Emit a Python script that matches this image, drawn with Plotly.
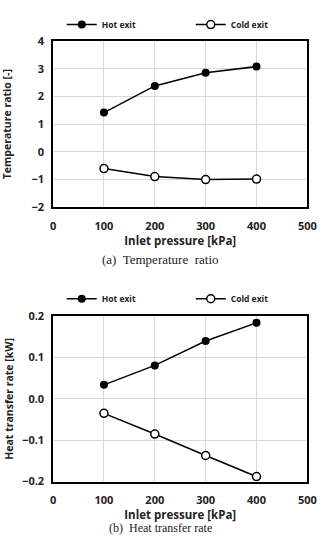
import plotly.graph_objects as go
from plotly.subplots import make_subplots

pressure = [100, 200, 300, 400]
temp_hot = [1.42, 2.38, 2.86, 3.08]
temp_cold = [-0.60, -0.89, -1.00, -0.98]
heat_hot = [0.034, 0.081, 0.140, 0.184]
heat_cold = [-0.035, -0.085, -0.137, -0.188]
x_ticks = [0, 100, 200, 300, 400, 500]

FONT = "Open Sans"
fig = make_subplots(rows=2, cols=1)

hot_style = dict(mode="lines+markers", line=dict(color="black", width=1.5),
                 marker=dict(symbol="circle", size=8, color="black"))
cold_style = dict(mode="lines+markers", line=dict(color="black", width=1.5),
                  marker=dict(symbol="circle", size=8, color="white",
                              line=dict(color="black", width=1.5)))

fig.add_trace(go.Scatter(x=pressure, y=temp_hot, name="Hot exit", legend="legend", **hot_style), row=1, col=1)
fig.add_trace(go.Scatter(x=pressure, y=temp_cold, name="Cold exit", legend="legend", **cold_style), row=1, col=1)
fig.add_trace(go.Scatter(x=pressure, y=heat_hot, name="Hot exit", legend="legend2", **hot_style), row=2, col=1)
fig.add_trace(go.Scatter(x=pressure, y=heat_cold, name="Cold exit", legend="legend2", **cold_style), row=2, col=1)

xd = [52/326, 316/326]
axis_common = dict(showline=True, linecolor="black", linewidth=1.5, mirror=True,
                   showgrid=True, gridcolor="#d9d9d9", gridwidth=1, zeroline=False,
                   ticks="", tickfont=dict(family=FONT, size=11, color="#222", weight="bold"))

fig.update_xaxes(**axis_common, range=[0, 500], tickvals=x_ticks, domain=xd,
                 ticklabelstandoff=8,
                 title=dict(text="Inlet pressure [kPa]", standoff=0,
                            font=dict(family=FONT, size=11.5, color="#222", weight="bold")))
fig.update_yaxes(**axis_common, ticklabelstandoff=5)
fig.update_yaxes(row=1, col=1, range=[-2, 4], dtick=1, domain=[1-205/543, 1-34/543],
                 title=dict(text="Temperature ratio [-]", standoff=18,
                            font=dict(family=FONT, size=10.5, color="#222", weight="bold")))
fig.update_yaxes(row=2, col=1, range=[-0.2, 0.2], dtick=0.1, tickformat=".1f",
                 domain=[1-487/543, 1-317/543],
                 title=dict(text="Heat transfer rate [kW]", standoff=6,
                            font=dict(family=FONT, size=10.5, color="#222", weight="bold")))

leg = dict(orientation="h", xanchor="left", yanchor="middle", bgcolor="rgba(0,0,0,0)",
           font=dict(family=FONT, size=8.5, color="#222", weight="bold"),
           itemwidth=30, entrywidthmode="pixels", entrywidth=84, tracegroupgap=0)
fig.update_layout(
    width=326, height=543, margin=dict(l=0, r=0, t=0, b=0),
    paper_bgcolor="white", plot_bgcolor="white",
    legend=dict(**leg, x=61/326, y=1-17/543),
    legend2=dict(**leg, x=61/326, y=1-299/543),
    annotations=[
        dict(text="(a)  Temperature  ratio", x=0.5, y=1-259/543, xref="paper", yref="paper",
             yanchor="middle", showarrow=False,
             font=dict(family="Liberation Serif", size=13, color="#222")),
        dict(text="(b)  Heat transfer rate", x=0.5, y=0, xref="paper", yref="paper",
             yanchor="bottom", showarrow=False, borderpad=0,
             font=dict(family="Liberation Serif", size=12, color="#222")),
    ],
)

fig.write_html("out.html")
